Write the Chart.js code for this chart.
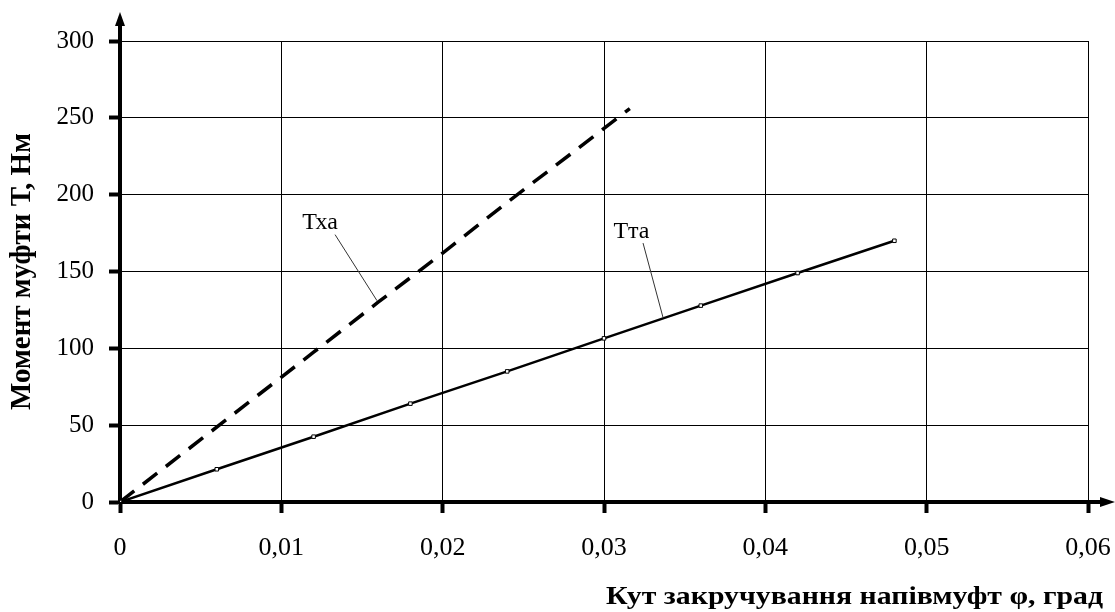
<!DOCTYPE html>
<html>
<head>
<meta charset="utf-8">
<script src="https://cdn.jsdelivr.net/npm/chart.js@4"></script>
<style>
    html, body { margin: 0; padding: 0; background: #ffffff; }
    #wrap { width: 1115px; height: 612px; position: relative; }
</style>
</head>
<body>
<div id="wrap"><canvas id="chart"></canvas></div>
<script>
// data
const ttaX = [0, 0.006, 0.012, 0.018, 0.024, 0.030, 0.036, 0.042, 0.048];
const ttaY = [0, 21.3, 42.5, 64, 85, 106.5, 127.8, 149, 170];

const txaX = [0, 0.004, 0.008, 0.012, 0.016, 0.020, 0.024, 0.028, 0.0316];
const txaY = [0, 32.5, 65, 97.5, 130, 162, 195, 227, 256];

const xTicks = [0, 0.01, 0.02, 0.03, 0.04, 0.05, 0.06];
const yTicks = [0, 50, 100, 150, 200, 250, 300];

const xTitle = "Кут закручування напівмуфт φ, град";
const yTitle = "Момент муфти Т, Нм";

// curve labels: [text, label x, label y, leader start x, y, leader end x, y]
const curveLabels = [
    ["Тха", 0.0124, 182, 0.01333, 174, 0.01593, 131],
    ["Тта", 0.0317, 176, 0.03242, 168.5, 0.03366, 120]
];

const serif = "'Liberation Serif', 'Times New Roman', serif";

function toPoints(xs, ys)
{
    return xs.map((x, i) => ({x: x, y: ys[i]}));
}

// thick axes with arrows, curve labels, x title
const decor = {
    id: "decor",
    afterDraw(chart)
    {
        const ctx = chart.ctx;
        const a = chart.chartArea;
        const sx = chart.scales.x;
        const sy = chart.scales.y;
        ctx.save();
        ctx.strokeStyle = "#000";
        ctx.fillStyle = "#000";

        // axis extensions
        ctx.lineWidth = 4;
        ctx.beginPath();
        ctx.moveTo(a.left, a.top);
        ctx.lineTo(a.left, 22);
        ctx.moveTo(a.right, a.bottom);
        ctx.lineTo(1106, a.bottom);
        ctx.stroke();

        // arrow heads
        ctx.beginPath();
        ctx.moveTo(a.left, 12);
        ctx.lineTo(a.left - 5, 26);
        ctx.lineTo(a.left + 5, 26);
        ctx.closePath();
        ctx.fill();
        ctx.beginPath();
        ctx.moveTo(1115, a.bottom);
        ctx.lineTo(1100, a.bottom - 5);
        ctx.lineTo(1100, a.bottom + 5);
        ctx.closePath();
        ctx.fill();

        // curve labels with leader lines
        ctx.font = "24px " + serif;
        ctx.textAlign = "center";
        ctx.textBaseline = "middle";
        curveLabels.forEach(l =>
        {
            ctx.fillText(l[0], sx.getPixelForValue(l[1]), sy.getPixelForValue(l[2]));
            ctx.lineWidth = 1;
            ctx.strokeStyle = "#333";
            ctx.beginPath();
            ctx.moveTo(sx.getPixelForValue(l[3]), sy.getPixelForValue(l[4]));
            ctx.lineTo(sx.getPixelForValue(l[5]), sy.getPixelForValue(l[6]));
            ctx.stroke();
        });

        // x axis title, right aligned and a bit wide like the original
        ctx.font = "bold 25px " + serif;
        ctx.textAlign = "right";
        ctx.textBaseline = "middle";
        const w = ctx.measureText(xTitle).width;
        ctx.translate(1103, 598);
        ctx.scale(497 / w, 1);
        ctx.fillText(xTitle, 0, 0);
        ctx.restore();
    }
};

const ctx = document.getElementById("chart").getContext("2d");

new Chart(ctx,
    {
        type: "scatter",
        data: {
            datasets: [
                {
                    label: "Тта",
                    data: toPoints(ttaX, ttaY),
                    showLine: true,
                    borderColor: "#000",
                    borderWidth: 2.5,
                    pointStyle: "rect",
                    pointRadius: 2.5,
                    pointBackgroundColor: "#fff",
                    pointBorderColor: "#000",
                    pointBorderWidth: 1
                },
                {
                    label: "Тха",
                    data: toPoints(txaX, txaY),
                    showLine: true,
                    borderColor: "#000",
                    borderWidth: 3.5,
                    borderDash: [18, 11],
                    pointRadius: 0
                }
            ]
        },
        options: {
            responsive: true,
            maintainAspectRatio: false,
            animation: false,
            layout: {
                padding: {left: 0, right: 27, top: 41, bottom: 0}
            },
            plugins: {
                legend: {display: false},
                tooltip: {enabled: false}
            },
            scales: {
                x: {
                    type: "linear",
                    min: 0,
                    max: 0.06,
                    afterBuildTicks: scale => { scale.ticks = xTicks.map(v => ({value: v})); },
                    afterFit: scale =>
                    {
                        scale.height = 110;
                        scale.paddingLeft = 0;
                        scale.paddingRight = 0;
                    },
                    border: {display: true, color: "#000", width: 4},
                    grid: {
                        color: "#000",
                        lineWidth: 1,
                        tickColor: "#000",
                        tickLength: 11,
                        tickWidth: 4
                    },
                    ticks: {
                        color: "#000",
                        padding: 20,
                        maxRotation: 0,
                        font: {family: serif, size: 26},
                        callback: v => String(v).replace(".", ",")
                    },
                    title: {display: false}
                },
                y: {
                    type: "linear",
                    min: 0,
                    max: 300,
                    afterBuildTicks: scale => { scale.ticks = yTicks.map(v => ({value: v})); },
                    afterFit: scale =>
                    {
                        scale.width = 120;
                        scale.paddingTop = 0;
                        scale.paddingBottom = 0;
                    },
                    border: {display: true, color: "#000", width: 4},
                    grid: {
                        color: "#000",
                        lineWidth: 1,
                        tickColor: "#000",
                        tickLength: 11,
                        tickWidth: 4
                    },
                    ticks: {
                        color: "#000",
                        padding: 15,
                        font: {family: serif, size: 25}
                    },
                    title: {
                        display: true,
                        text: yTitle,
                        color: "#000",
                        font: {family: serif, size: 29, weight: "bold"},
                        padding: {top: 5, bottom: 0}
                    }
                }
            }
        },
        plugins: [decor]
    });
</script>
</body>
</html>
